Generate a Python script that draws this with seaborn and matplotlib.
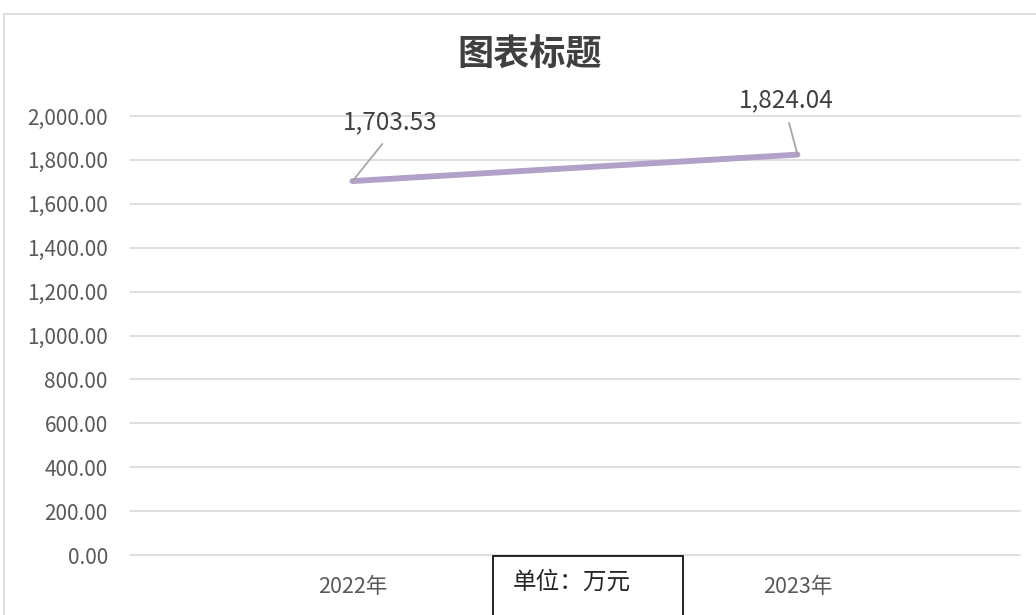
import matplotlib
matplotlib.use("Agg")
import matplotlib.pyplot as plt
import seaborn as sns
import pandas as pd
from matplotlib.patches import Rectangle

# 数据
years = ["2022年", "2023年"]
values = [1703.53, 1824.04]
value_labels = ["1,703.53", "1,824.04"]
y_ticks = [0, 200, 400, 600, 800, 1000, 1200, 1400, 1600, 1800, 2000]

sns.set_theme(style="white")
plt.rcParams['font.family'] = ['Noto Sans CJK SC', 'DejaVu Sans']

df = pd.DataFrame({"year": years, "value": values})

fig = plt.figure(figsize=(10.36, 6.15), dpi=100)
# 外框
fig.patches.append(Rectangle((4 / 1036, -0.01), 1.0, 1 - 14 / 615 + 0.01,
                             transform=fig.transFigure, fill=False,
                             edgecolor="#d9d9d9", linewidth=1.2))

ax = fig.add_axes([130 / 1036, 1 - 555 / 615, 890 / 1036, 439 / 615])
ax.set_facecolor("none")

sns.lineplot(data=df, x="year", y="value", ax=ax, color="#b1a0c7",
             linewidth=4.2, solid_capstyle="round", sort=False)

ax.set_xlim(-0.5, 1.5)
ax.set_ylim(0, 2000)
ax.set_yticks(y_ticks)
ax.set_yticklabels([f"{v:,.2f}" for v in y_ticks])
ax.grid(axis="y", color="#d9d9d9", linewidth=1.2, clip_on=False)
ax.set_axisbelow(True)
for s in ax.spines.values():
    s.set_visible(False)
ax.tick_params(axis="y", length=0, labelsize=15, colors="#595959", pad=16)
ax.tick_params(axis="x", length=0, labelsize=15.5, colors="#595959", pad=15)
ax.set_xlabel("")
ax.set_ylabel("")

# 数据标签及引导线
offsets = [(0.085, 268), (-0.025, 249)]
relx = [0.49, 0.5]
for i, (v, lab) in enumerate(zip(values, value_labels)):
    dx, dy = offsets[i]
    ax.annotate(lab, xy=(i, v), xytext=(i + dx, v + dy), ha="center", va="center",
                fontsize=17.5, color="#404040",
                arrowprops=dict(arrowstyle="-", color="#a6a6a6", lw=1.3,
                                relpos=(relx[i], 0), shrinkA=5, shrinkB=0))

fig.text(530 / 1036, 1 - 55 / 615, "图表标题", ha="center", va="center",
         fontsize=26, color="#404040", fontweight="bold")

# 单位框
fig.patches.append(Rectangle((493 / 1036, -0.01), 190 / 1036, 1 - 556 / 615 + 0.01,
                             transform=fig.transFigure, facecolor="white",
                             edgecolor="black", linewidth=1.2, zorder=5))
fig.text(572 / 1036, 1 - 582 / 615, "单位：万元", ha="center", va="center",
         fontsize=17, color="#262626", zorder=6)

fig.savefig("out.png", dpi=100)
